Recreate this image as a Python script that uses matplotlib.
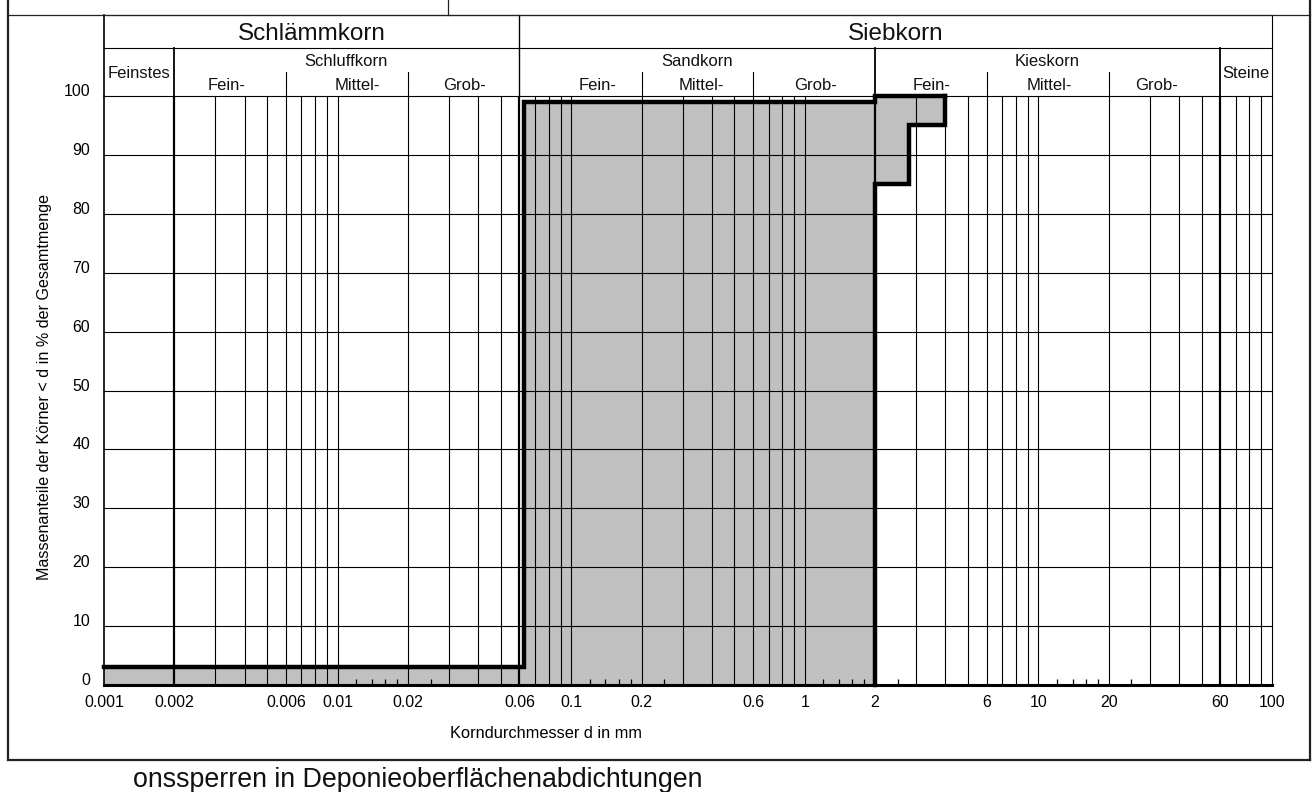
import numpy as np
import matplotlib
matplotlib.use("Agg")
import matplotlib.pyplot as plt
from matplotlib.lines import Line2D

plt.rcParams['font.family'] = ['Liberation Sans', 'DejaVu Sans']

# ---------------- data ----------------
# upper boundary of the grading band (d in mm, % passing)
upper_d = [0.001, 0.063, 0.063, 2.0, 2.0, 4.0]
upper_p = [3, 3, 99, 99, 100, 100]
# lower boundary of the grading band
lower_d = [2.0, 2.0, 2.8, 2.8, 4.0, 4.0]
lower_p = [0, 85, 85, 95, 95, 100]

xtick_vals = [0.001, 0.002, 0.006, 0.01, 0.02, 0.06, 0.1, 0.2, 0.6, 1, 2, 6, 10, 20, 60, 100]
xtick_labels = ["0.001", "0.002", "0.006", "0.01", "0.02", "0.06", "0.1", "0.2", "0.6",
                "1", "2", "6", "10", "20", "60", "100"]
minor_ticks = [0.012, 0.014, 0.016, 0.018, 0.025,
               0.12, 0.14, 0.16, 0.18, 0.25,
               1.2, 1.4, 1.6, 1.8, 2.5,
               12, 14, 16, 18, 25]
ytick_vals = [0, 10, 20, 30, 40, 50, 60, 70, 80, 90, 100]

# class boundaries
main_bounds = [0.002, 0.06, 2, 60]
sub_bounds = [0.006, 0.02, 0.2, 0.6, 6, 20]

W, H = 1314, 792
fig = plt.figure(figsize=(W / 100, H / 100), dpi=100)

AX_L, AX_R, AX_T, AX_B = 104, 1272, 96, 685
ax = fig.add_axes([AX_L / W, 1 - AX_B / H, (AX_R - AX_L) / W, (AX_B - AX_T) / H])
ax.set_xscale('log')
ax.set_xlim(0.001, 100)
ax.set_ylim(0, 100)

def yf(py):
    """pixel row -> axes fraction"""
    return (AX_B - py) / (AX_B - AX_T)

def fx(px):
    return px / W

def fy(py):
    return 1 - py / H

# gray band
poly_x = [upper_d[0]] + upper_d + lower_d[::-1]
poly_y = [0] + upper_p + lower_p[::-1]
ax.fill(poly_x, poly_y, color='#c0c0c0', lw=0, zorder=1)

# vertical grid lines
vgrid = []
for n in range(-3, 2):
    for k in range(2, 10):
        vgrid.append(k * 10.0 ** n)
for n in range(-2, 2):
    vgrid.append(10.0 ** n)
for v in vgrid:
    lw = 1.6 if any(abs(v - b) / b < 1e-6 for b in main_bounds) else 0.8
    ax.axvline(v, color='black', lw=lw, zorder=2)

# horizontal grid lines
for yv in ytick_vals[1:-1]:
    ax.axhline(yv, color='black', lw=0.8, zorder=2)

# curves
ax.plot(upper_d, upper_p, color='black', lw=3.2, zorder=4, clip_on=False,
        solid_joinstyle='miter')
ax.plot(lower_d, lower_p, color='black', lw=3.2, zorder=4, clip_on=False,
        solid_joinstyle='miter')

# spines
for s in ['top', 'right']:
    ax.spines[s].set_linewidth(0.8)
ax.spines['left'].set_linewidth(1.2)
ax.spines['bottom'].set_linewidth(2.2)
for s in ax.spines.values():
    s.set_zorder(5)

# ticks
ax.set_xticks(xtick_vals)
ax.set_xticklabels(xtick_labels, fontsize=11.4)
ax.set_xticks(minor_ticks, minor=True)
ax.xaxis.set_minor_formatter(matplotlib.ticker.NullFormatter())
ax.tick_params(axis='x', which='major', length=0, pad=7.5)
ax.tick_params(axis='x', which='minor', direction='in', length=4, width=0.9, color='black')
ax.set_yticks(ytick_vals)
ax.set_yticklabels([str(v) for v in ytick_vals], fontsize=11.4)
ax.tick_params(axis='y', length=0, pad=10)
for lab in ax.get_yticklabels():
    lab.set_va('baseline')

# axis labels
fig.text(fx(546), fy(733), "Korndurchmesser d in mm", ha='center', va='center', fontsize=11.8)
fig.text(fx(45), fy(387), "Massenanteile der Körner < d in % der Gesamtmenge",
         ha='center', va='center', rotation=90, fontsize=11.6)

# ---------------- header ----------------
xt = ax.get_xaxis_transform()
hdr_kw = dict(color='black', transform=xt, clip_on=False)
ax.add_line(Line2D([0.001, 100], [yf(15), yf(15)], lw=0.8, **hdr_kw))
ax.add_line(Line2D([0.001, 100], [yf(48), yf(48)], lw=0.8, **hdr_kw))
ax.add_line(Line2D([0.001, 0.001], [1, yf(15)], lw=1.2, **hdr_kw))
ax.add_line(Line2D([100, 100], [1, yf(15)], lw=0.8, **hdr_kw))
ax.add_line(Line2D([0.06, 0.06], [1, yf(15)], lw=1.0, **hdr_kw))
for b in [0.002, 2, 60]:
    ax.add_line(Line2D([b, b], [1, yf(48)], lw=1.3, **hdr_kw))
for b in sub_bounds:
    ax.add_line(Line2D([b, b], [1, yf(72)], lw=0.8, **hdr_kw))

def ht(px, py, s, fs):
    fig.text(fx(px), fy(py), s, ha='center', va='center', fontsize=fs, color='#111111')

SUB = 12
ht(312, 34, "Schlämmkorn", 17.5)
ht(896, 34, "Siebkorn", 17.5)
ht(139, 74, "Feinstes", SUB)
ht(346, 61, "Schluffkorn", SUB)
ht(227, 86, "Fein-", SUB)
ht(357, 86, "Mittel-", SUB)
ht(465, 86, "Grob-", SUB)
ht(697, 61, "Sandkorn", SUB)
ht(598, 86, "Fein-", SUB)
ht(701, 86, "Mittel-", SUB)
ht(815, 86, "Grob-", SUB)
ht(1047, 61, "Kieskorn", SUB)
ht(932, 86, "Fein-", SUB)
ht(1049, 86, "Mittel-", SUB)
ht(1156, 86, "Grob-", SUB)
ht(1246, 74, "Steine", SUB)

# ---------------- outer frame ----------------
def fline(x0, y0, x1, y1, lw):
    fig.add_artist(Line2D([fx(x0), fx(x1)], [fy(y0), fy(y1)], color='#222222', lw=lw,
                          transform=fig.transFigure))

fline(8, 0, 8, 760, 1.6)
fline(1310, 0, 1310, 760, 1.6)
fline(8, 15, 1310, 15, 0.9)
fline(8, 760, 1310, 760, 1.6)
fline(448, 0, 448, 15, 0.9)

fig.text(fx(133), fy(780), "onssperren in Deponieoberflächenabdichtungen", ha='left',
         va='center', fontsize=19.3, color='#111111')

fig.savefig("out.png", dpi=100, facecolor='white')
